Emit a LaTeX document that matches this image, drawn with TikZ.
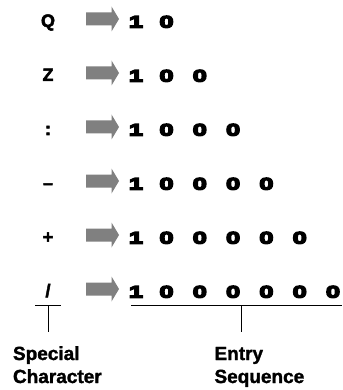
\documentclass[tikz,border=0pt]{standalone}
\usepackage{fontspec}
\setmainfont{Liberation Sans}[BoldFont=* Bold]
\newfontfamily\digitfont{Liberation Sans Bold}[FakeStretch=1.55]
\newcommand\heavytext[2]{\special{pdf:literal direct 2 Tr #1 w}#2\special{pdf:literal direct 0 Tr}}
\tikzset{every picture/.style={line width=1pt}}
\tikzset{
  charnode/.style={anchor=base,inner sep=0pt,font=\fontsize{18}{18}\selectfont\bfseries},
  digit/.style={anchor=base,inner sep=0pt,font=\digitfont\fontsize{16.5}{16.5}\selectfont},
  caption/.style={anchor=base west,inner sep=0pt,align=left,font=\fontsize{19}{23}\selectfont\bfseries},
  arrowfill/.style={fill=gray,draw=none}
}

\begin{document}
\begin{tikzpicture}[x=1pt,y=1pt,yscale=-1]
\useasboundingbox (0,0) rectangle (342,390);

% special characters
\node[charnode] (cQ) at (48,27) {\heavytext{0.5}{Q}};
\node[charnode] (cZ) at (48,81) {\heavytext{0.5}{Z}};
\node[charnode] (cColon) at (48,135) {\heavytext{0.5}{:}};
\node[charnode] (cDash) at (48,189) {\heavytext{0.5}{–}};
\node[charnode] (cPlus) at (48,243) {\heavytext{0.5}{+}};
\node[charnode] (cSlash) at (48,297) {\heavytext{0.5}{/}};

% block arrows and entry sequences
\foreach \k in {0,...,5}{
  \pgfmathsetmacro\ya{19+54*\k}
  \pgfmathsetmacro\yb{27.5+54*\k}
  \pgfmathtruncatemacro\nz{\k+1}
  \fill[arrowfill] (86,\ya-6.5) -- (111.5,\ya-6.5) -- (111.5,\ya-12.5) -- (119,\ya)
    -- (111.5,\ya+12.5) -- (111.5,\ya+6.5) -- (86,\ya+6.5) -- cycle;
  \node[digit] (one\k) at (136,\yb) {\heavytext{1.6}{1}};
  \foreach \j in {1,...,\nz}{
    \node[digit] (zero\k-\j) at ({166.5+33.3*(\j-1)},\yb) {\heavytext{1.6}{0}};
  }
}

% brackets
\coordinate (lL) at (35,305);
\coordinate (lR) at (61,305);
\coordinate (lT) at (48,305);
\coordinate (lB) at (48,332);
\coordinate (rL) at (131,305);
\coordinate (rR) at (342,305);
\coordinate (rT) at (241,305);
\coordinate (rB) at (241,332);
\draw (lL) -- (lR);
\draw (lT) -- (lB);
\draw (rL) -- (rR);
\draw (rT) -- (rB);

% captions
\node[caption] (special) at (12.5,383) {\heavytext{0.3}{Special}\\\heavytext{0.3}{Character}};
\node[caption] (entry) at (214,383) {\heavytext{0.3}{Entry}\\\heavytext{0.3}{Sequence}};

\end{tikzpicture}
\end{document}
